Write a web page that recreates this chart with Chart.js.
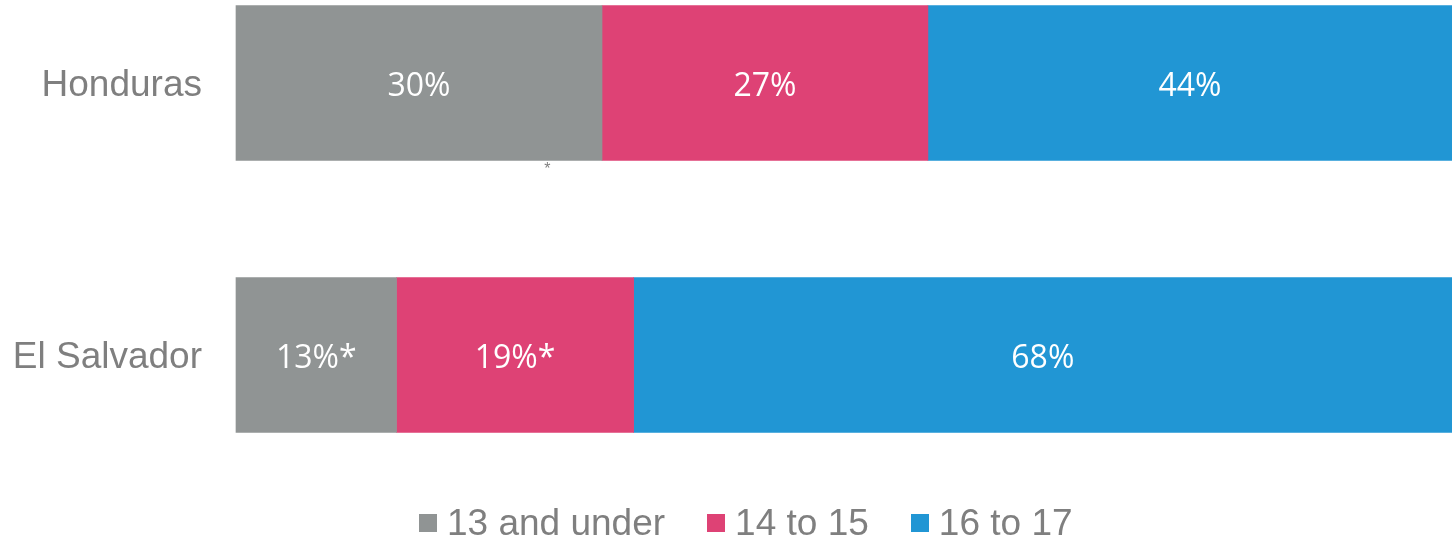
<!DOCTYPE html>
<html>
<head>
<meta charset="utf-8">
<script src="https://cdn.jsdelivr.net/npm/chart.js@4/dist/chart.umd.min.js"></script>
<style>
  html, body { margin: 0; padding: 0; background: #ffffff; }
  #wrap { position: relative; width: 1452px; height: 541px; overflow: hidden; }
  #legend { position: absolute; left: 419px; top: 503px; display: flex; align-items: center;
    font-family: "Liberation Sans", Arial, sans-serif; font-size: 37px; line-height: 40px; color: #7f7f7f; }
  .item { display: flex; align-items: center; margin-right: 42px; white-space: nowrap; }
  .item:last-child { margin-right: 0; }
  .box { width: 18px; height: 18px; margin-right: 10px; }
</style>
</head>
<body>
<div id="wrap">
  <canvas id="c" width="1452" height="541"></canvas>
  <div id="legend"></div>
</div>
<script>
// ---- data ----
const categories = ["Honduras", "El Salvador"];
const seriesNames = ["13 and under", "14 to 15", "16 to 17"];
const under13 = [30.1, 13.2];
const age14to15 = [26.8, 19.5];
const age16to17 = [43.1, 67.3];
const under13Labels = ["30%", "13%*"];
const age14to15Labels = ["27%", "19%*"];
const age16to17Labels = ["44%", "68%"];
const seriesColors = ["#909494", "#de4275", "#2196d4"];
const asteriskNote = { text: "*", category: 0, value: 25.6 };

const seriesValues = [under13, age14to15, age16to17];
const seriesLabels = [under13Labels, age14to15Labels, age16to17Labels];

const valueLabelPlugin = {
  id: "valueLabels",
  afterDatasetsDraw(chart) {
    const ctx = chart.ctx;
    ctx.save();
    ctx.font = "32px 'Open Sans', sans-serif";
    ctx.fillStyle = "#ffffff";
    ctx.textAlign = "center";
    ctx.textBaseline = "alphabetic";
    chart.data.datasets.forEach((ds, i) => {
      const meta = chart.getDatasetMeta(i);
      meta.data.forEach((bar, j) => {
        const p = bar.getCenterPoint();
        ctx.fillText(seriesLabels[i][j], p.x, p.y + 13);
      });
    });
    // small asterisk note under first bar
    const meta0 = chart.getDatasetMeta(0);
    const bar0 = meta0.data[asteriskNote.category];
    const props = bar0.getProps(["y", "height"], true);
    const xs = chart.scales.x.getPixelForValue(asteriskNote.value);
    ctx.font = "16px 'Liberation Sans', Arial, sans-serif";
    ctx.fillStyle = "#808080";
    ctx.textBaseline = "top";
    ctx.fillText(asteriskNote.text, xs, props.y + props.height / 2 + 1);
    ctx.restore();
  }
};

const chart = new Chart(document.getElementById("c"), {
  type: "bar",
  data: {
    labels: categories,
    datasets: seriesNames.map((name, i) => ({
      label: name,
      data: seriesValues[i],
      backgroundColor: seriesColors[i],
      borderWidth: 0,
      barThickness: 155,
      clip: false
    }))
  },
  options: {
    indexAxis: "y",
    responsive: false,
    animation: false,
    layout: { padding: { top: 83, bottom: 186, left: 0, right: 0 } },
    plugins: { legend: { display: false }, tooltip: { enabled: false } },
    scales: {
      x: { stacked: true, min: 0, max: 100, display: false },
      y: {
        stacked: true,
        offset: false,
        grid: { display: false, drawTicks: false },
        border: { display: false },
        ticks: {
          padding: 34,
          labelOffset: 3,
          color: "#7f7f7f",
          font: { family: "'Liberation Sans', Arial, sans-serif", size: 37 }
        },
        afterFit(scale) { scale.width = 236; }
      }
    }
  },
  plugins: [valueLabelPlugin]
});

// HTML legend built from the series arrays
const legend = document.getElementById("legend");
seriesNames.forEach((name, i) => {
  const item = document.createElement("div");
  item.className = "item";
  const box = document.createElement("span");
  box.className = "box";
  box.style.background = seriesColors[i];
  const txt = document.createElement("span");
  txt.textContent = name;
  item.appendChild(box);
  item.appendChild(txt);
  legend.appendChild(item);
});
</script>
</body>
</html>
